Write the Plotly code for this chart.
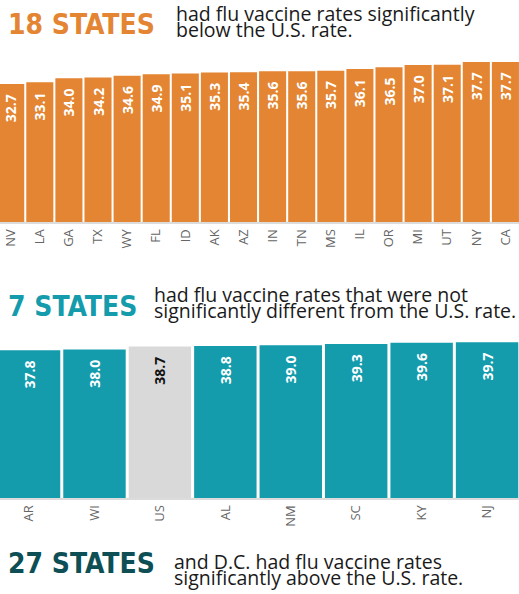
import plotly.graph_objects as go

W, H = 519, 594

# ---- data ----
below_states = ["NV", "LA", "GA", "TX", "WY", "FL", "ID", "AK", "AZ", "IN", "TN", "MS", "IL", "OR", "MI", "UT", "NY", "CA"]
below_rates = [32.7, 33.1, 34.0, 34.2, 34.6, 34.9, 35.1, 35.3, 35.4, 35.6, 35.6, 35.7, 36.1, 36.5, 37.0, 37.1, 37.7, 37.7]

similar_states = ["AR", "WI", "US", "AL", "NM", "SC", "KY", "NJ"]
similar_rates = [37.8, 38.0, 38.7, 38.8, 39.0, 39.3, 39.6, 39.7]

heading_numbers = ["18 STATES", "7 STATES", "27 STATES"]
heading_lines = [
    ["had flu vaccine rates significantly", "below the U.S. rate."],
    ["had flu vaccine rates that were not", "significantly different from the U.S. rate."],
    ["and D.C. had flu vaccine rates", "significantly above the U.S. rate."],
]

ORANGE = "#E38532"
TEAL = "#149BAC"
GRAY = "#D9D9D9"
DARK_TEAL = "#0D4F55"

NARROW = "DejaVu Sans Condensed, sans-serif"
BODY = "Open Sans, Noto Sans, sans-serif"


def px_x(x):
    return x / W


def px_y(y):
    return 1 - y / H


fig = go.Figure()

fig.add_trace(go.Bar(
    x=below_states, y=below_rates, xaxis="x", yaxis="y",
    width=[0.93] * len(below_states),
    marker=dict(color=ORANGE, line=dict(width=0)),
    texttemplate="%{y:.1f}\u00a0\u00a0", textposition="inside", insidetextanchor="end",
    textangle=-90, constraintext="none",
    textfont=dict(color="white", size=14, family=BODY, weight="bold"),
    hoverinfo="skip",
))

sim_colors = [GRAY if s == "US" else TEAL for s in similar_states]
sim_text_colors = ["#111111" if s == "US" else "white" for s in similar_states]
fig.add_trace(go.Bar(
    x=similar_states, y=similar_rates, xaxis="x2", yaxis="y2",
    width=[0.954] * len(similar_states),
    marker=dict(color=sim_colors, line=dict(width=0)),
    texttemplate="%{y:.1f}\u00a0\u00a0", textposition="inside", insidetextanchor="end",
    textangle=-90, constraintext="none",
    textfont=dict(color=sim_text_colors, size=14, family=BODY, weight="bold"),
    hoverinfo="skip",
))

axis_common = dict(showgrid=False, zeroline=False, ticks="", fixedrange=True)

fig.update_layout(
    width=W, height=H,
    margin=dict(l=0, r=0, t=0, b=0),
    paper_bgcolor="white", plot_bgcolor="white",
    showlegend=False,
    xaxis=dict(domain=[0, 1], range=[-0.368, 17.467], tickangle=-90,
               tickfont=dict(size=13, color="#666666", family=BODY),
               showline=True, linecolor="#DCDCDC", linewidth=2, anchor="y", **axis_common),
    yaxis=dict(domain=[px_y(222), px_y(50)], range=[1.34, 40.43], visible=False,
               anchor="x", **axis_common),
    xaxis2=dict(domain=[0, 1], range=[-0.444, 7.488], tickangle=-90,
                tickfont=dict(size=13, color="#666666", family=BODY),
                showline=True, linecolor="#DCDCDC", linewidth=2, anchor="y2", **axis_common),
    yaxis2=dict(domain=[px_y(498), px_y(330)], range=[2.63, 42.63], visible=False,
                anchor="x2", **axis_common),
)

# headings
heading_colors = [ORANGE, TEAL, DARK_TEAL]
heading_x = [6, 6, 6]
heading_cap_center = [25, 306, 563]
sub_x = [174, 152, 172]
sub_baselines = [(20.7, 36.7), (302, 318), (569, 585)]
SUB_SIZE = 19.5

annotations = []
for i in range(3):
    annotations.append(dict(
        text=heading_numbers[i], xref="paper", yref="paper",
        x=px_x(heading_x[i]), y=px_y(heading_cap_center[i]),
        xanchor="left", yanchor="middle", showarrow=False,
        font=dict(family=NARROW, size=28, color=heading_colors[i], weight="bold"),
    ))
    for j, line in enumerate(heading_lines[i]):
        base = sub_baselines[i][j]
        mid = base - 0.388 * SUB_SIZE
        annotations.append(dict(
            text=line, xref="paper", yref="paper",
            x=px_x(sub_x[i]), y=px_y(mid),
            xanchor="left", yanchor="middle", showarrow=False,
            font=dict(family=BODY, size=SUB_SIZE, color="#1a1a1a"),
        ))

fig.update_layout(annotations=annotations)

fig.write_html("out.html", config={"displayModeBar": False, "staticPlot": True},
               post_script="document.body.style.margin='0';")
